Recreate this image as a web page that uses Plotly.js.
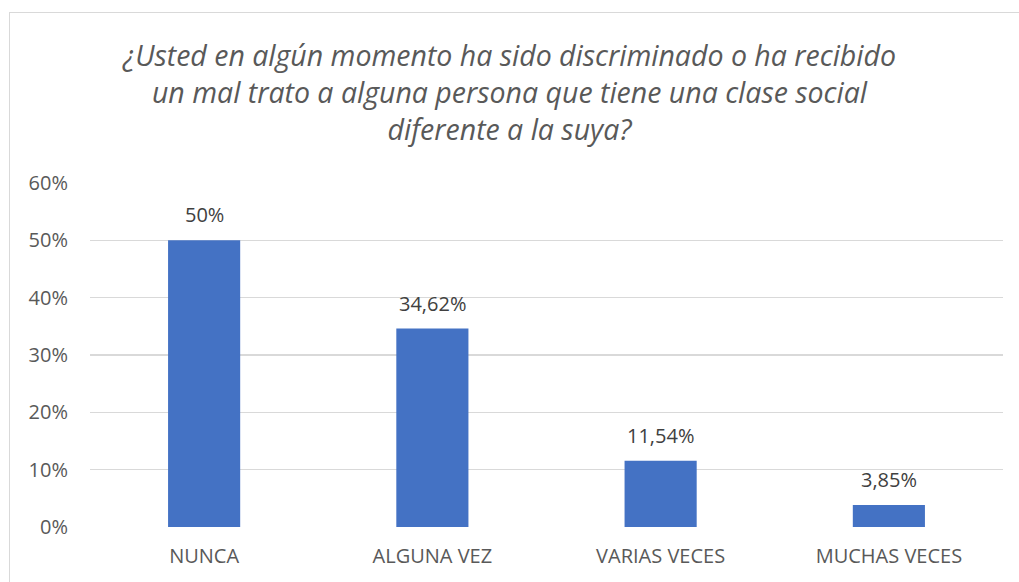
<!DOCTYPE html>
<html>
<head>
<meta charset="utf-8">
<script src="https://cdn.plot.ly/plotly-3.0.1.min.js"></script>
<style>
  html, body { margin: 0; padding: 0; background: #fff; overflow: hidden; }
  #frame { position: absolute; left: 9px; top: 12px; width: 1030px; height: 600px; border: 1.5px solid #d9d9d9; box-sizing: border-box; }
  #chart { position: absolute; left: 0; top: 0; width: 1019px; height: 582px; }
</style>
</head>
<body>
<div id="frame"></div>
<div id="chart"></div>
<script>
const categories = ["NUNCA", "ALGUNA VEZ", "VARIAS VECES", "MUCHAS VECES"];
const values = [50, 34.62, 11.54, 3.85];
const valueLabels = ["50%", "34,62%", "11,54%", "3,85%"];
const tickValues = [0, 10, 20, 30, 40, 50, 60];
const tickLabels = ["0%", "10%", "20%", "30%", "40%", "50%", "60%"];
const titleText = "¿Usted en algún momento ha sido discriminado o ha recibido<br>un mal trato a alguna persona que tiene una clase social<br>diferente a la suya?";

const fontFam = "Open Sans, Noto Sans, sans-serif";

const trace = {
  type: "bar",
  x: categories,
  y: values,
  marker: { color: "#4472C4" },
  hoverinfo: "none"
};

const annotations = categories.map((c, i) => ({
  x: c, y: values[i], xref: "x", yref: "y",
  text: valueLabels[i], showarrow: false,
  yanchor: "bottom", yshift: 10,
  font: { family: fontFam, size: 20, color: "#404040" }
}));

const layout = {
  width: 1019, height: 582,
  margin: { l: 90, r: 16, t: 183, b: 55 },
  paper_bgcolor: "rgba(0,0,0,0)",
  plot_bgcolor: "rgba(0,0,0,0)",
  showlegend: false,
  bargap: 0.684,
  title: {
    text: titleText,
    x: 0.5, xref: "container", xanchor: "center",
    y: 0.886, yref: "container", yanchor: "middle",
    font: { family: fontFam, size: 28.5, color: "#595959", style: "italic" }
  },
  xaxis: {
    type: "category",
    tickfont: { family: fontFam, size: 20, color: "#595959" },
    ticks: "", showgrid: false, zeroline: false, showline: false,
    ticklabelstandoff: 15
  },
  yaxis: {
    range: [0, 60],
    tickvals: tickValues, ticktext: tickLabels,
    tickfont: { family: fontFam, size: 20, color: "#595959" },
    gridcolor: "#d9d9d9", gridwidth: 1.5,
    zeroline: false, showline: false, ticks: "",
    ticklabelstandoff: 21
  },
  annotations: annotations
};

Plotly.newPlot("chart", [trace], layout, { displayModeBar: false, staticPlot: true });
</script>
</body>
</html>
